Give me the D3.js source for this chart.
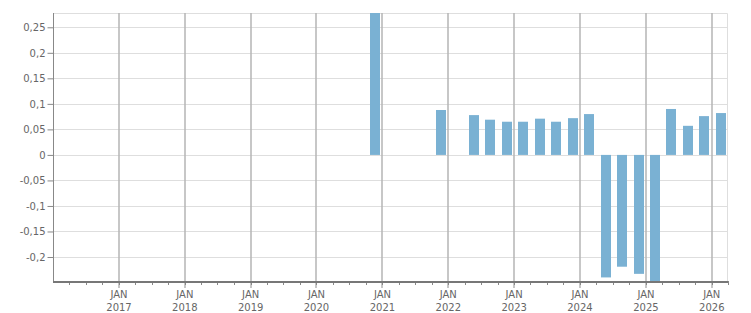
<!DOCTYPE html>
<html>
<head>
<meta charset="utf-8">
<script src="https://cdn.jsdelivr.net/npm/d3@7"></script>
<style>
  body { margin: 0; background: #fff; }
  svg { display: block; }
  text { font-family: Verdana, "DejaVu Sans", sans-serif; font-size: 10px; fill: #666; }
</style>
</head>
<body>
<div id="chart"></div>
<script>
// quarter start dates of each bar
var quarters = ["2020-10-01", "2021-10-01", "2022-04-01", "2022-07-01", "2022-10-01",
    "2023-01-01", "2023-04-01", "2023-07-01", "2023-10-01", "2024-01-01",
    "2024-04-01", "2024-07-01", "2024-10-01", "2025-01-01", "2025-04-01",
    "2025-07-01", "2025-10-01", "2026-01-01"];
var values = [0.285, 0.088, 0.078, 0.069, 0.065,
    0.065, 0.071, 0.065, 0.072, 0.080,
    -0.240, -0.219, -0.233, -0.250, 0.090,
    0.057, 0.076, 0.082];
var yTicks = [-0.2, -0.15, -0.1, -0.05, 0, 0.05, 0.1, 0.15, 0.2, 0.25];
var yearTicks = [2017, 2018, 2019, 2020, 2021, 2022, 2023, 2024, 2025, 2026];

var width = 751, height = 313;
var margin = { top: 13, right: 23, bottom: 32, left: 53 };

var parse = d3.timeParse("%Y-%m-%d");
var data = quarters.map(function (q, i) { return { date: parse(q), value: values[i] }; });

var svg = d3.select("#chart")
    .append("svg")
    .attr("width", width)
    .attr("height", height);

var x = d3.scaleTime()
    .domain([new Date(2016, 0, 1), new Date(2026, 3, 1)])
    .range([margin.left, width - margin.right]);

var y = d3.scaleLinear()
    .domain([-0.247, 0.278])
    .range([height - margin.bottom, margin.top]);

var fmt = function (d) { return String(+d.toFixed(2)).replace(".", ","); };

// horizontal grid
svg.append("g")
    .selectAll("line")
    .data(yTicks)
    .enter().append("line")
    .attr("x1", margin.left)
    .attr("x2", width - margin.right)
    .attr("y1", function (d) { return Math.round(y(d)) + 0.5; })
    .attr("y2", function (d) { return Math.round(y(d)) + 0.5; })
    .attr("stroke", "#dedede")
    .attr("stroke-width", 1);

// plot frame top / right
svg.append("path")
    .attr("d", `M${margin.left},${margin.top + 0.5}H${width - margin.right - 0.5}V${height - margin.bottom}`)
    .attr("fill", "none")
    .attr("stroke", "#dedede");

// yearly vertical grid
var years = yearTicks.map(function (yr) { return new Date(yr, 0, 1); });
svg.append("g")
    .selectAll("line")
    .data(years)
    .enter().append("line")
    .attr("x1", function (d) { return Math.round(x(d)); })
    .attr("x2", function (d) { return Math.round(x(d)); })
    .attr("y1", margin.top)
    .attr("y2", height - margin.bottom + 7)
    .attr("stroke", "#b4b4b4")
    .attr("stroke-width", 1.5);

// bars
svg.append("clipPath")
    .attr("id", "plotClip")
    .append("rect")
    .attr("x", margin.left)
    .attr("y", margin.top)
    .attr("width", width - margin.left - margin.right)
    .attr("height", height - margin.top - margin.bottom);

svg.append("g")
    .attr("clip-path", "url(#plotClip)")
    .selectAll("rect")
    .data(data)
    .enter().append("rect")
    .attr("x", function (d) {
        var x0 = x(d.date), x1 = x(d3.timeMonth.offset(d.date, 3));
        return Math.round((x0 + x1) / 2) - 4;
    })
    .attr("width", 10)
    .attr("y", function (d) { return y(Math.max(0, d.value)); })
    .attr("height", function (d) { return Math.abs(y(d.value) - y(0)); })
    .attr("fill", "#7ab1d3");

// y axis
var yAxis = svg.append("g")
    .attr("transform", `translate(${margin.left + 0.5},0)`)
    .call(d3.axisLeft(y).tickValues(yTicks).tickFormat(fmt).tickSize(6).tickPadding(2));
yAxis.select(".domain").attr("stroke", "#888").attr("d", `M0,${margin.top}V${height - margin.bottom}`);
yAxis.selectAll(".tick line").attr("stroke", "#888");
yAxis.selectAll("text").attr("fill", "#666").attr("font-size", 10).attr("font-family", "Verdana, 'DejaVu Sans', sans-serif");

// x axis: quarterly minor ticks
var quarterTicks = d3.timeMonth.every(3).range(new Date(2016, 3, 1), new Date(2026, 3, 2));
svg.append("g")
    .selectAll("line")
    .data(quarterTicks)
    .enter().append("line")
    .attr("x1", function (d) { return Math.round(x(d)) + 0.5; })
    .attr("x2", function (d) { return Math.round(x(d)) + 0.5; })
    .attr("y1", height - margin.bottom)
    .attr("y2", height - margin.bottom + 4)
    .attr("stroke", "#888");

svg.append("line")
    .attr("x1", margin.left)
    .attr("x2", width - margin.right)
    .attr("y1", height - margin.bottom + 1)
    .attr("y2", height - margin.bottom + 1)
    .attr("stroke", "#777")
    .attr("stroke-width", 2);

var xLabels = svg.append("g")
    .selectAll("text")
    .data(years)
    .enter().append("text")
    .attr("text-anchor", "middle")
    .attr("transform", function (d) { return `translate(${x(d)},0)`; });
xLabels.append("tspan")
    .attr("x", 0)
    .attr("y", 298)
    .text("JAN");
xLabels.append("tspan")
    .attr("x", 0)
    .attr("y", 311)
    .text(function (d) { return d.getFullYear(); });
</script>
</body>
</html>
